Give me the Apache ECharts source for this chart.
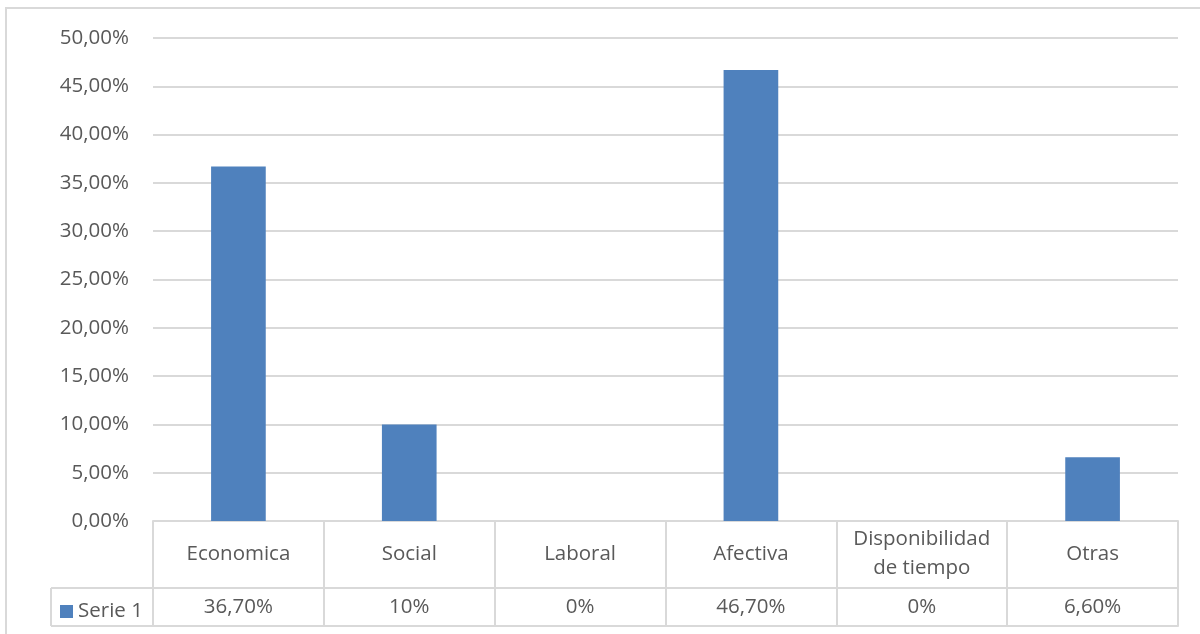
<!DOCTYPE html>
<html><head><meta charset="utf-8">
<script src="https://cdn.jsdelivr.net/npm/echarts@6/dist/echarts.min.js"></script>
<style>html,body{margin:0;padding:0;background:#fff}#c{width:1200px;height:634px}</style>
</head><body><div id="c"></div>
<script>
const categories = ['Economica', 'Social', 'Laboral', 'Afectiva', 'Disponibilidad\nde tiempo', 'Otras'];
const values = [0.367, 0.10, 0, 0.467, 0, 0.066];
const valueLabels = ['36,70%', '10%', '0%', '46,70%', '0%', '6,60%'];
const seriesName = 'Serie 1';

const FONT = 'Open Sans';
const FS = 20.5;
const TXT = '#595959';
const LINE = '#d9d9d9';
const chart = echarts.init(document.getElementById('c'));
chart.setOption({
  animation: false,
  textStyle: { fontFamily: FONT },
  grid: { left: 153, right: 22, top: 38, bottom: 113 },
  legend: {
    data: [seriesName], left: 55, top: 596, itemWidth: 13, itemHeight: 13, itemGap: 4,
    icon: 'rect', selectedMode: false,
    textStyle: { fontFamily: FONT, fontSize: FS, color: TXT, padding: [0, 0, 0, 0] }
  },
  xAxis: [
    { type: 'category', data: categories, position: 'bottom',
      axisLine: { show: true, lineStyle: { color: LINE, width: 2 } },
      axisTick: { show: true, length: 67, lineStyle: { color: LINE, width: 2 } },
      axisLabel: { margin: 33, verticalAlign: 'middle', fontSize: FS, color: TXT, lineHeight: 29, interval: 0 } },
    { type: 'category', data: valueLabels, position: 'bottom', offset: 67,
      axisLine: { show: true, lineStyle: { color: LINE, width: 2 } },
      axisTick: { show: true, length: 38, lineStyle: { color: LINE, width: 2 } },
      axisLabel: { margin: 19, verticalAlign: 'middle', fontSize: FS, color: TXT, interval: 0 } },
    { type: 'category', data: valueLabels, position: 'bottom', offset: 105,
      axisLine: { show: true, lineStyle: { color: LINE, width: 2 } },
      axisTick: { show: false }, axisLabel: { show: false } }
  ],
  yAxis: {
    type: 'value', min: 0, max: 0.5, interval: 0.05,
    axisLine: { show: false }, axisTick: { show: false },
    splitLine: { lineStyle: { color: LINE, width: 2 } },
    axisLabel: { margin: 24, fontSize: FS, color: TXT,
      formatter: v => (v * 100).toFixed(2).replace('.', ',') + '%' }
  },
  series: [{
    name: seriesName, type: 'bar', data: values, barWidth: '32%',
    itemStyle: { color: '#4f81bd' }
  }],
  graphic: [
    { type: 'rect', shape: { x: 6, y: 8, width: 1220, height: 640 }, style: { fill: 'none', stroke: LINE, lineWidth: 2 }, silent: true },
    { type: 'line', shape: { x1: 51, y1: 588, x2: 153, y2: 588 }, style: { stroke: LINE, lineWidth: 2 }, silent: true },
    { type: 'line', shape: { x1: 51, y1: 626, x2: 153, y2: 626 }, style: { stroke: LINE, lineWidth: 2 }, silent: true },
    { type: 'line', shape: { x1: 51, y1: 588, x2: 51, y2: 626 }, style: { stroke: LINE, lineWidth: 2 }, silent: true }
  ]
});
</script></body></html>
